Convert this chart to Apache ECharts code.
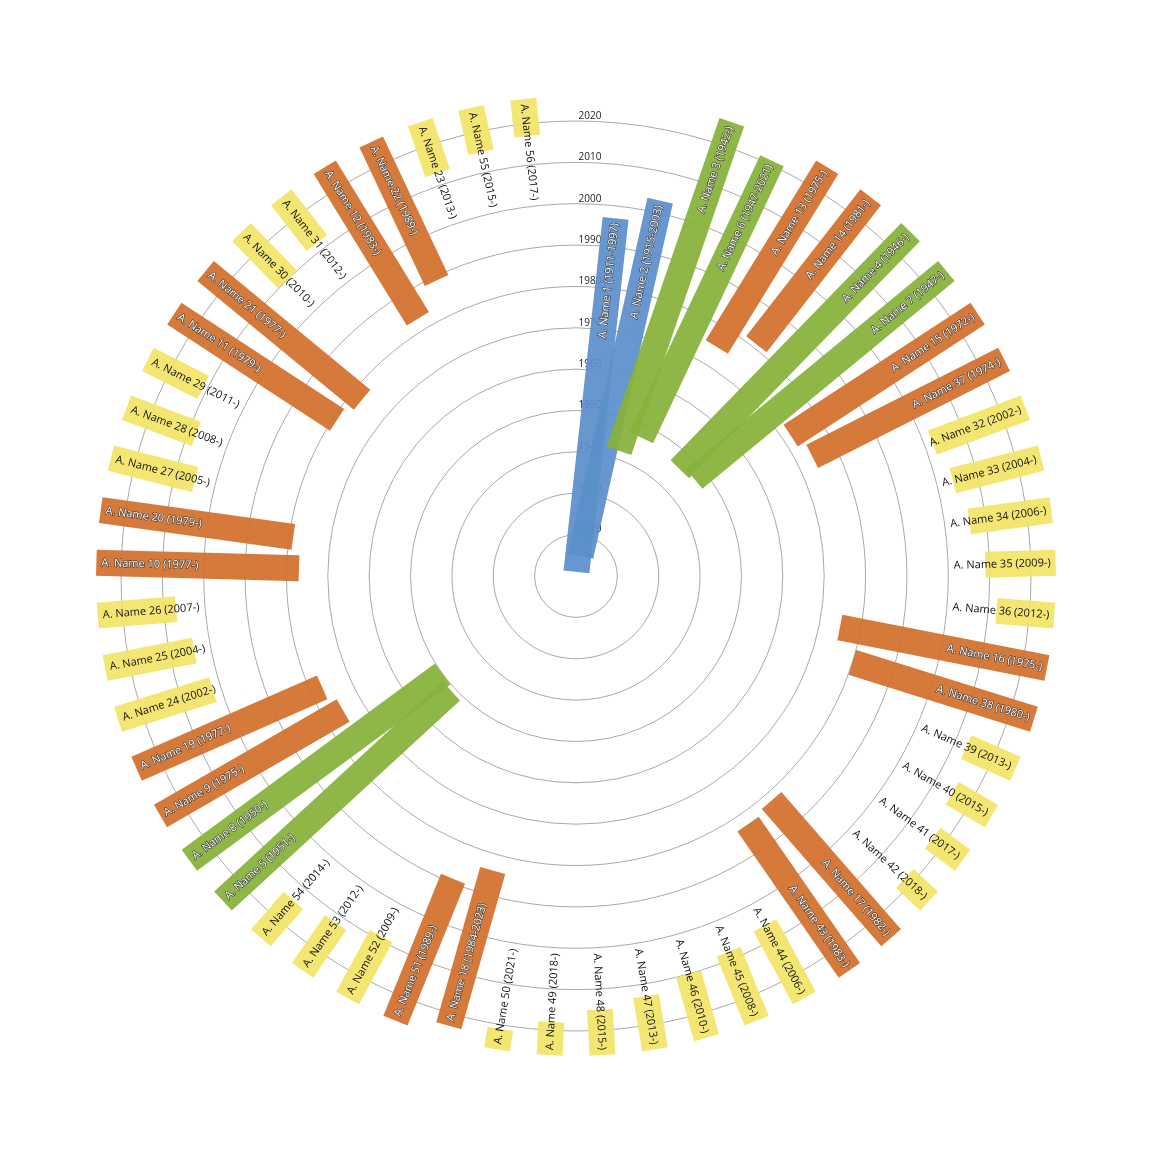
<!DOCTYPE html>
<html><head><meta charset="utf-8">
<script src="https://cdn.jsdelivr.net/npm/echarts@6/dist/echarts.min.js"></script>
<style>html,body{margin:0;padding:0;background:#fff}#c{width:1152px;height:1152px}</style>
</head><body><div id="c"></div>
<script>
// Items in clockwise order (slot 1..56), slot 0 empty at top
const names = [1,2,3,6,13,14,4,7,15,37,32,33,34,35,36,16,38,39,40,41,42,17,43,44,45,46,47,48,49,50,18,51,52,53,54,5,8,9,19,24,25,26,10,20,27,28,29,11,21,30,31,12,22,23,55,56];
const starts = [1911,1915,1942,1947,1975,1981,1946,1947,1972,1974,2002,2004,2006,2009,2012,1975,1980,2013,2015,2017,2018,1982,1983,2006,2008,2010,2013,2015,2018,2021,1984,1989,2009,2012,2014,1951,1950,1975,1977,2002,2004,2007,1977,1979,2005,2008,2011,1979,1977,2010,2012,1983,1989,2013,2015,2017];
// null = ongoing
const ends = [1997,2003,null,2021,null,null,null,null,null,null,null,null,null,null,null,null,null,null,null,null,null,null,null,null,null,null,null,null,null,null,2023,null,null,null,null,null,null,null,null,null,null,null,null,null,null,null,null,null,null,null,null,null,null,null,null,null];
const ONGOING_END = 2026;
const SLOTS = 57;
const ringTicks = [1920,1930,1940,1950,1960,1970,1980,1990,2000,2010,2020];

function colorFor(s){ if(s<1930) return '#5b8fca'; if(s<1960) return '#86b13a'; if(s<2000) return '#d2702c'; return '#f3e468'; }

const data = names.map((n,i)=>{
  const e = ends[i];
  const label = 'A. Name ' + n + ' (' + starts[i] + '-' + (e && e!==null ? e : '') + ')';
  return [i+1, starts[i], e===null?ONGOING_END:e, label];
});

const chart = echarts.init(document.getElementById('c'));
chart.setOption({
  backgroundColor:'#fff',
  animation:false,
  polar:{center:['50%','50%'], radius:455},
  angleAxis:{type:'value', min:0, max:SLOTS, startAngle:90, clockwise:true,
    axisLine:{show:false}, axisTick:{show:false}, axisLabel:{show:false}, splitLine:{show:false}},
  radiusAxis:{type:'value', min:1910, max:2020, interval:10,
    axisLine:{show:false}, axisTick:{show:false},
    axisLabel:{show:true, fontSize:10, color:'#222', fontFamily:'Open Sans', margin:-14, align:'center', verticalAlign:'bottom',
      formatter:v=> ringTicks.indexOf(v)>=0 ? String(v) : ''},
    splitLine:{show:true, lineStyle:{color:'#aaa', width:1}}, z:1},
  series:[{
    type:'custom', coordinateSystem:'polar', data:data, z:5,
    renderItem:function(params, api){
      const a = api.value(0), s = api.value(1), e = api.value(2);
      const c = api.coord([1910, a]);
      const p0 = api.coord([s, a]), p1 = api.coord([e, a]);
      let dx = p1[0]-c[0], dy = p1[1]-c[1];
      const L = Math.hypot(dx,dy); dx/=L; dy/=L;
      const nx = -dy, ny = dx, w = 13;
      const col = colorFor(s);
      const pts = [[p0[0]+nx*w,p0[1]+ny*w],[p1[0]+nx*w,p1[1]+ny*w],[p1[0]-nx*w,p1[1]-ny*w],[p0[0]-nx*w,p0[1]-ny*w]];
      const right = a <= SLOTS/2;
      const tx = p1[0]-dx*5, ty = p1[1]-dy*5;
      const rot = right ? -Math.atan2(dy,dx) : -Math.atan2(-dy,-dx);
      const yellow = s>=2000;
      return {type:'group', children:[
        {type:'polygon', shape:{points:pts}, style:{fill:col, opacity:0.93}},
        {type:'text', x:tx, y:ty, rotation:rot, z2:10,
          style:{text:data[params.dataIndex][3], x:0, y:0, align:right?'right':'left', verticalAlign:'middle',
            fontSize:11, fontFamily:'Open Sans', fill: yellow ? '#111' : '#fff',
            stroke: yellow ? null : '#333', lineWidth: yellow ? 0 : 1.2}}
      ]};
    }
  }]
});
</script></body></html>
